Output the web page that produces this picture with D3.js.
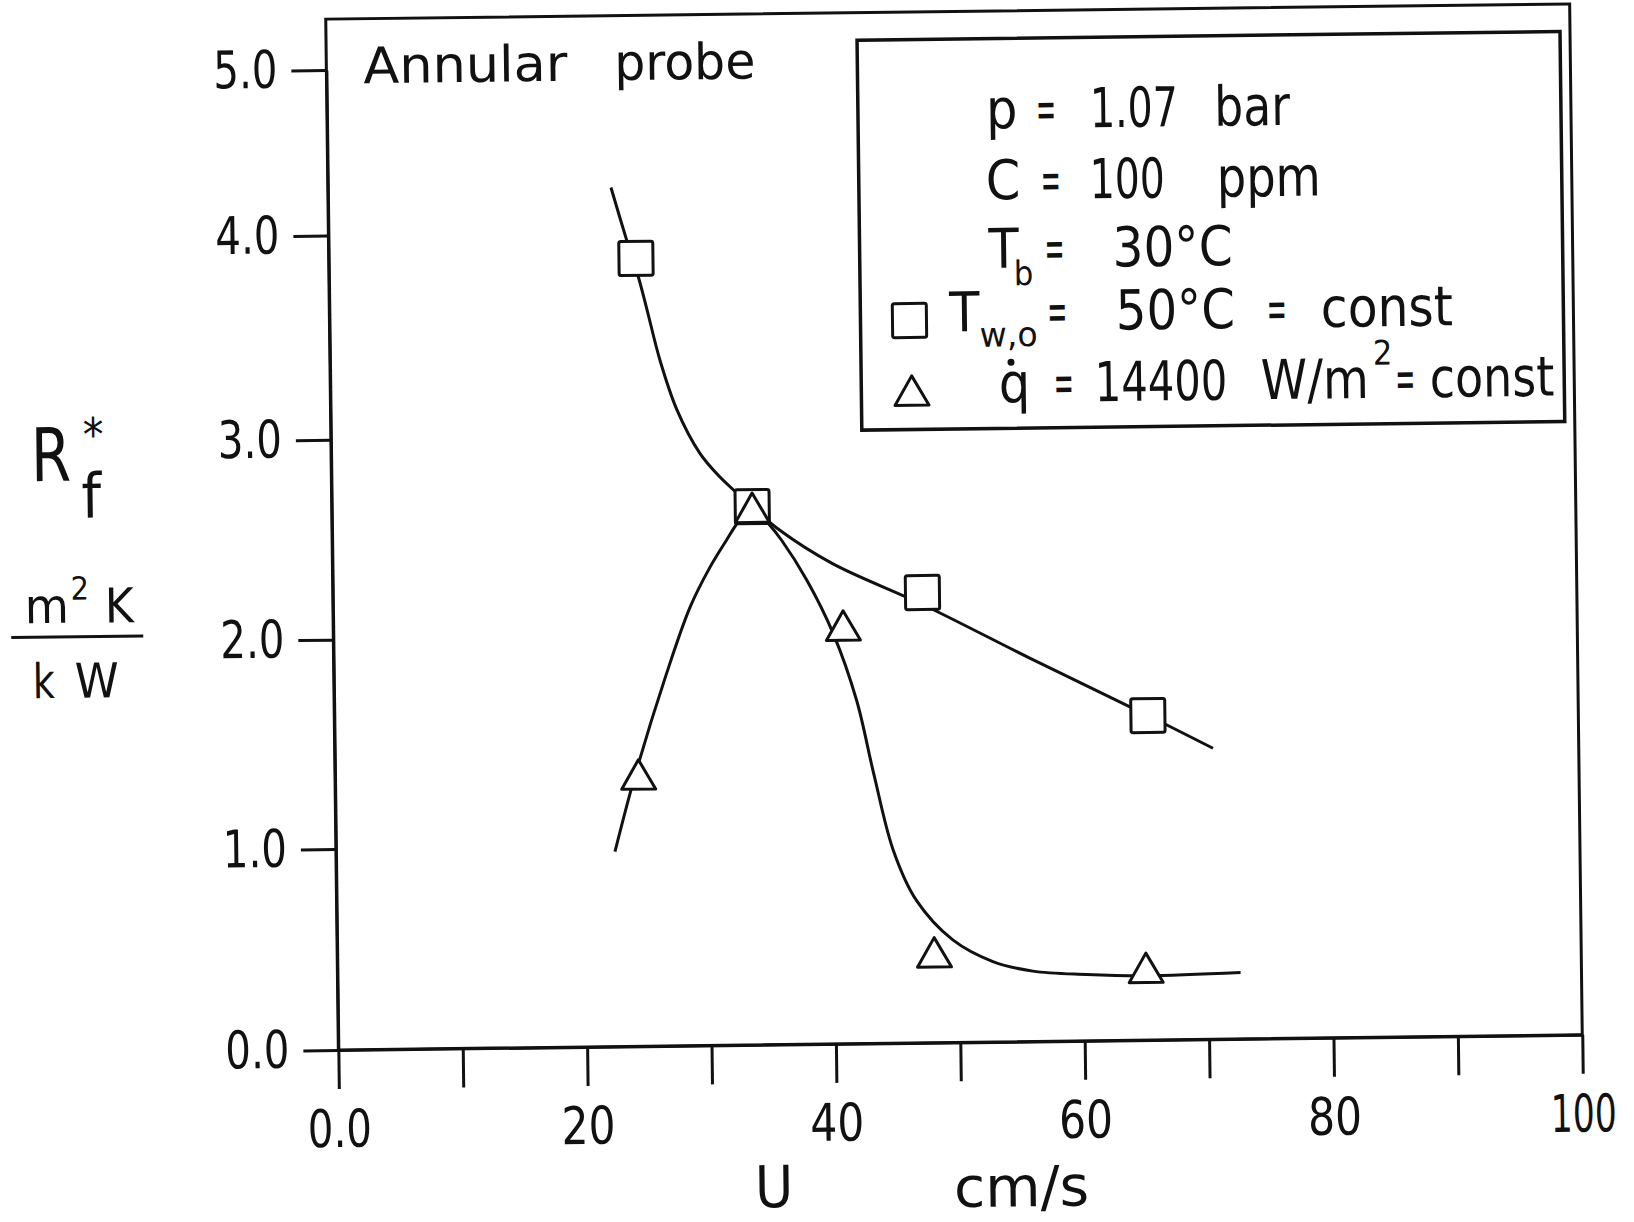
<!DOCTYPE html>
<html>
<head>
<meta charset="utf-8">
<script src="https://cdn.jsdelivr.net/npm/d3@7"></script>
<style>
  html, body { margin: 0; padding: 0; background: #fff; }
  svg { display: block; }
  text { font-family: 'DejaVu Sans Condensed', 'Liberation Sans Narrow', Roboto, sans-serif; fill: #111; }
</style>
</head>
<body>
<svg id="chart" width="1634" height="1222"></svg>
<script>
// fouling resistance Rf* against flow velocity U, annular probe
const squareU = [24.7, 33.8, 47.4, 65.4];
const squareR = [3.87, 2.64, 2.20, 1.59];
const triangleU = [24.4, 33.8, 41.0, 48.0, 65.0];
const triangleR = [1.315, 2.61, 2.015, 0.425, 0.335];

// the hand drawn fit curves
const squareFitU = [22.76, 23.97, 24.87, 25.53, 26.53, 27.82, 29.65, 31.24, 33.8, 36.0, 40.2, 47.4, 56.0, 65.4, 70.6];
const squareFitR = [4.27, 3.96, 3.78, 3.62, 3.37, 3.13, 2.91, 2.79, 2.64, 2.52, 2.35, 2.14, 1.87, 1.59, 1.43];
const triangleFitU = [22.43, 24.15, 26.7, 28.7, 30.35, 31.71, 32.67, 33.8, 34.95, 36.13, 38.11, 40.19, 42.0, 43.3, 44.8, 46.6, 49.5, 52.7, 55.9, 60.2, 65.0, 72.6];
const triangleFitR = [0.97, 1.34, 1.81, 2.14, 2.34, 2.475, 2.565, 2.64, 2.565, 2.47, 2.27, 2.0, 1.68, 1.33, 0.96, 0.71, 0.51, 0.40, 0.35, 0.33, 0.32, 0.33];

const xMajor = [0, 20, 40, 60, 80, 100];
const xLabels = ["0.0", "20", "40", "60", "80", "100"];
const xMinor = [10, 30, 50, 70, 90];
const yTicks = [0, 1, 2, 3, 4, 5];
const yLabels = ["0.0", "1.0", "2.0", "3.0", "4.0", "5.0"];

const svg = d3.select("#chart");
svg.append("rect").attr("width", 1634).attr("height", 1222).attr("fill", "#fff");

// the scan sits a little askew, so the whole plot is turned slightly
const root = svg.append("g").attr("transform", "rotate(-0.7, 954, 527)");

const x = d3.scaleLinear().domain([0, 100]).range([332, 1576]);
// printed y axis is not evenly spaced (5.0 sits close to 4.0), scale follows the tick marks
const y = d3.scaleLinear().domain(yTicks).range([1042.4, 841.4, 632.1, 432.2, 228, 62.4]);

const ink = "#111";

// frame
root.append("rect")
    .attr("x", x(0)).attr("y", 11.5)
    .attr("width", x(100) - x(0)).attr("height", y(0) - 11.5)
    .attr("fill", "none").attr("stroke", ink).attr("stroke-width", 3);

const xAxis = root.append("g")
    .attr("transform", `translate(0,${y(0)})`)
    .call(d3.axisBottom(x)
        .tickValues(xMajor.concat(xMinor))
        .tickSize(39).tickSizeOuter(0).tickPadding(21)
        .tickFormat(d => { const i = xMajor.indexOf(d); return i < 0 ? "" : xLabels[i]; }));

const yAxis = root.append("g")
    .attr("transform", `translate(${x(0)},0)`)
    .call(d3.axisLeft(y)
        .tickValues(yTicks)
        .tickSize(35).tickSizeOuter(0).tickPadding(14)
        .tickFormat((d, i) => yLabels[i]));

// printed numerals are narrow, squeeze the labels to their printed width
const labelWidth = s => s.includes(".") ? 64 : (s.length === 3 ? 66 : 54);
[xAxis, yAxis].forEach(a => {
    a.attr("font-size", 52);
    a.selectAll("line, .domain").attr("stroke", ink).attr("stroke-width", 3);
    a.selectAll(".tick text")
        .filter(function () { return this.textContent !== ""; })
        .attr("textLength", function () { return labelWidth(this.textContent); })
        .attr("lengthAdjust", "spacingAndGlyphs");
});

// fit curves
const line = d3.line()
    .x(d => x(d[0]))
    .y(d => y(d[1]))
    .curve(d3.curveCatmullRom.alpha(0.5));

root.append("path")
    .attr("d", line(d3.zip(squareFitU, squareFitR)))
    .attr("fill", "none").attr("stroke", ink).attr("stroke-width", 3);
root.append("path")
    .attr("d", line(d3.zip(triangleFitU, triangleFitR)))
    .attr("fill", "none").attr("stroke", ink).attr("stroke-width", 3);

// markers
const sq = 34;
root.append("g").selectAll("rect")
    .data(d3.zip(squareU, squareR))
    .join("rect")
    .attr("x", d => x(d[0]) - sq / 2)
    .attr("y", d => y(d[1]) - sq / 2)
    .attr("width", sq).attr("height", sq).attr("rx", 2)
    .attr("fill", "#fff").attr("stroke", ink).attr("stroke-width", 3);

const tri = d3.symbol(d3.symbolTriangle, 500);
root.append("g").selectAll("path")
    .data(d3.zip(triangleU, triangleR))
    .join("path")
    .attr("d", tri)
    .attr("transform", d => `translate(${x(d[0])},${y(d[1])})`)
    .attr("fill", "#fff").attr("stroke", ink).attr("stroke-width", 3)
    .attr("stroke-linejoin", "round");

// text helper: optional width squeezes or stretches the word to the printed size
function word(g, str, px, py, size, width) {
    const t = g.append("text").attr("x", px).attr("y", py).attr("font-size", size).text(str);
    if (width) t.attr("textLength", width).attr("lengthAdjust", "spacingAndGlyphs");
    return t;
}

word(root, "Annular", 369, 76, 50, 204);
word(root, "probe", 620, 76, 50, 141);

// legend box
const lg = root.append("g");
lg.append("rect")
    .attr("x", 863).attr("y", 39).attr("width", 703).attr("height", 390)
    .attr("fill", "none").attr("stroke", ink).attr("stroke-width", 3.5);

const fs = 55, sub = 34, eq = 20;
word(lg, "p", 991, 129, fs);
word(lg, "=", 1041, 129, fs, eq);
word(lg, "1.07", 1095, 129, fs, 88);
word(lg, "bar", 1219.5, 129, fs, 75.5);

word(lg, "C", 990, 200, fs);
word(lg, "=", 1045, 200, fs, eq);
word(lg, "100", 1094, 200, fs, 75);
word(lg, "ppm", 1221, 200, fs, 104);

word(lg, "T", 992, 268.5, fs);
word(lg, "b", 1017, 286, sub);
word(lg, "=", 1048, 268.5, fs, eq);
word(lg, "30°C", 1116, 268.5, fs, 120);

lg.append("rect")
    .attr("x", 912 - sq / 2).attr("y", 320 - sq / 2).attr("width", sq).attr("height", sq).attr("rx", 2)
    .attr("fill", "#fff").attr("stroke", ink).attr("stroke-width", 3);
word(lg, "T", 952, 331.5, fs);
word(lg, "w,o", 982, 347, sub, 58);
word(lg, "=", 1050, 331.5, fs, eq);
word(lg, "50°C", 1118.5, 331.5, fs, 119);
word(lg, "=", 1269.5, 331.5, fs, eq);
word(lg, "const", 1323.5, 331.5, fs, 132);

lg.append("path").attr("d", tri)
    .attr("transform", "translate(913.5,395)")
    .attr("fill", "#fff").attr("stroke", ink).attr("stroke-width", 3).attr("stroke-linejoin", "round");
word(lg, "q", 1000.5, 403, fs);
lg.append("circle").attr("cx", 1013).attr("cy", 363).attr("r", 3.5).attr("fill", ink);
word(lg, "=", 1055.5, 403, fs, eq);
word(lg, "14400", 1096.5, 403, fs, 132.5);
word(lg, "W/m", 1262.5, 403, fs, 108);
word(lg, "2", 1375, 370, sub);
word(lg, "=", 1397, 403, fs, eq);
word(lg, "const", 1431.5, 403, fs, 124.5);

// y axis title  Rf* in m²K/kW
word(root, "R", 32, 470, 74, 40);
word(root, "f", 82, 507, 62);
word(root, "*", 84, 440, 46);
word(root, "m", 24, 612, 48, 44);
word(root, "2", 70, 589, 32);
word(root, "K", 104, 612, 48, 29);
root.append("line")
    .attr("x1", 10).attr("x2", 142).attr("y1", 626).attr("y2", 626)
    .attr("stroke", ink).attr("stroke-width", 3);
word(root, "k", 31, 687, 48, 22);
word(root, "W", 73, 687, 48, 44);

// x axis title
word(root, "U", 766, 1205, 58).attr("text-anchor", "middle");
word(root, "cm/s", 946, 1207, 56, 135);
</script>
</body>
</html>
